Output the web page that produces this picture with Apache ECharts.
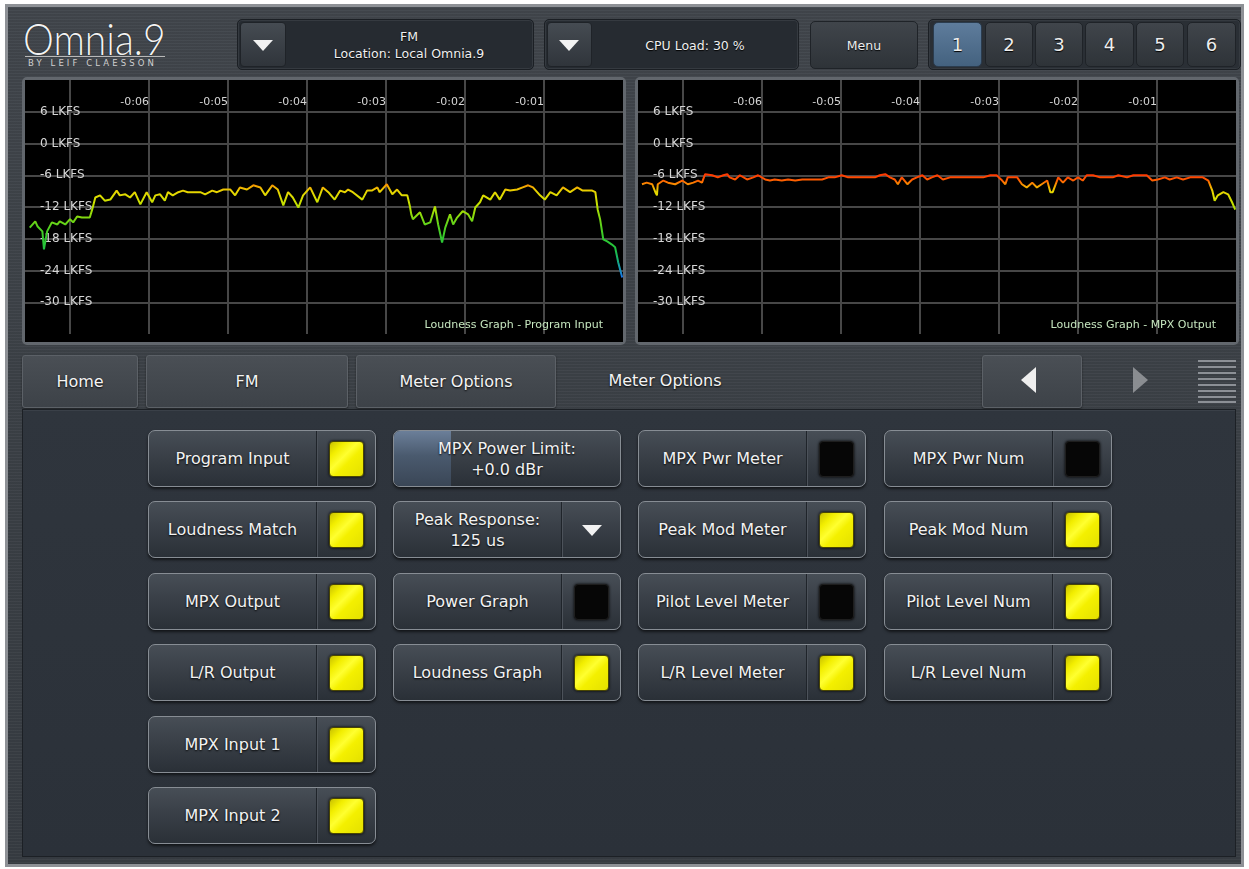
<!DOCTYPE html>
<html><head><meta charset="utf-8">
<script src="https://cdn.jsdelivr.net/npm/echarts@6/dist/echarts.min.js"></script>
<style>
html,body{margin:0;padding:0;background:#fff;width:1249px;height:869px;overflow:hidden;font-family:'DejaVu Sans',sans-serif;}
.a{position:absolute;box-sizing:border-box;}
#frame{left:5px;top:4px;width:1239px;height:863px;border:3px solid #8e9196;
 background-image:repeating-linear-gradient(180deg,rgba(255,255,255,0.025) 0 1px,rgba(0,0,0,0.05) 1px 3px),linear-gradient(#42474d,#3b4046 60%,#383d43);}
.logo{left:23px;top:13px;font:300 39px Lato,'DejaVu Sans';color:#f2f2f2;text-shadow:0 0 1px #000;transform:scaleY(1.1);transform-origin:0 0;}
.uline{left:25px;top:56px;width:140px;height:1px;background:#b8b8b8;}
.tag{left:28px;top:58px;font:8.5px 'DejaVu Sans';letter-spacing:3.1px;color:#d0d0d0;}
.dd{background:#262b31;border:1px solid #1b1f24;border-radius:5px;box-shadow:inset 0 0 0 1px #353a40;}
.arrbtn{background:linear-gradient(#454b52,#30353b);border:1px solid #1f2328;border-radius:4px;}
.tri{width:0;height:0;border-left:10px solid transparent;border-right:10px solid transparent;border-top:11px solid #f2f2f2;}
.ddtxt{color:#f0f0f0;font-size:12.5px;text-align:center;line-height:17px;text-shadow:0 1px 1px #000;}
.tb{background:linear-gradient(#40454b,#2e3338);border:1px solid #1f2328;border-radius:5px;color:#eee;display:flex;align-items:center;justify-content:center;text-shadow:0 1px 1px #000;}
.num{font-size:18px;}
.sel{background:linear-gradient(#5e7c9c,#44627f);border-color:#2b3c4e;}
.panel{background:#000;border:3px solid #62676d;border-radius:5px;}
.chart{background:#000;}
.nav{background:linear-gradient(#4a4f55,#3d4248);border:1px solid #5c6167;border-radius:3px;color:#f4f4f4;font-size:16px;display:flex;align-items:center;justify-content:center;text-shadow:0 1px 2px #000;box-shadow:0 1px 2px rgba(0,0,0,.5);}
.navtxt{color:#f4f4f4;font-size:16px;text-shadow:0 1px 2px #000;}
.ham{background:#8c9096;height:2px;left:1198px;width:38px;}
#lower{left:22px;top:409px;width:1214px;height:448px;background:linear-gradient(#2f353d,#2b3139);border:1px solid #1c2025;box-shadow:inset 0 1px 0 #3a4048;}
.btn{position:absolute;box-sizing:border-box;width:228px;height:57px;border-radius:7px;border:1px solid #878d94;
 background:linear-gradient(#474e56 0%,#3b4149 40%,#2a3037 100%);box-shadow:0 2px 3px rgba(0,0,0,.6);color:#f2f2f2;font-size:16px;text-shadow:0 1px 2px #000;}
.btn .lbl{position:absolute;left:0;top:0;width:167px;height:100%;display:flex;align-items:center;justify-content:center;text-align:center;line-height:21px;}
.btn .full{width:100%;}
.btn .side{position:absolute;left:167px;top:0;right:0;bottom:0;border-left:1px solid #1f242a;box-shadow:inset 1px 0 0 #4c525a;}
.btn .ind{position:absolute;left:12px;top:10px;width:35px;height:36px;border-radius:4px;box-sizing:border-box;}
.on{background:linear-gradient(135deg,#c8c000 0%,#f2ee00 22%,#ffff30 42%,#f4f000 58%,#e4e000 100%);border:1px solid #4a4600;box-shadow:0 0 3px #000;}
.off{background:#060606;border:1px solid #1e1e1e;box-shadow:0 0 3px #000;}
.fill{position:absolute;left:0;top:0;bottom:0;width:57px;border-radius:6px 0 0 6px;background:linear-gradient(#6b7f99,#4a5a6e 45%,#3a4656);}
</style></head>
<body>
<div class="a" id="frame"></div>
<div class="a logo">Omnia.9</div>
<div class="a uline"></div>
<div class="a tag">BY LEIF CLAESSON</div>

<div class="a dd" style="left:237px;top:19px;width:297px;height:51px;"></div>
<div class="a arrbtn" style="left:240px;top:22px;width:46px;height:45px;"></div>
<div class="a tri" style="left:253px;top:40px;"></div>
<div class="a ddtxt" style="left:286px;top:28px;width:246px;">FM<br>Location: Local Omnia.9</div>

<div class="a dd" style="left:544px;top:19px;width:255px;height:51px;"></div>
<div class="a arrbtn" style="left:547px;top:22px;width:45px;height:45px;"></div>
<div class="a tri" style="left:559px;top:40px;"></div>
<div class="a ddtxt" style="left:592px;top:37px;width:206px;">CPU Load: 30 %</div>

<div class="a tb" style="left:810px;top:21px;width:108px;height:48px;font-size:12.5px;">Menu</div>

<div class="a dd" style="left:928px;top:19px;width:313px;height:51px;background:#2a2f35;"></div>
<div class="a tb num sel" style="left:933px;top:22px;width:49px;height:45px;">1</div>
<div class="a tb num" style="left:985px;top:22px;width:48px;height:45px;">2</div>
<div class="a tb num" style="left:1035px;top:22px;width:48px;height:45px;">3</div>
<div class="a tb num" style="left:1085px;top:22px;width:49px;height:45px;">4</div>
<div class="a tb num" style="left:1136px;top:22px;width:48px;height:45px;">5</div>
<div class="a tb num" style="left:1187px;top:22px;width:49px;height:45px;">6</div>

<div class="a panel" style="left:22px;top:77px;width:604px;height:268px;"></div>
<div class="a panel" style="left:635px;top:77px;width:604px;height:268px;"></div>
<div class="a chart" id="g1" style="left:25px;top:80px;width:598px;height:262px;"></div>
<div class="a chart" id="g2" style="left:638px;top:80px;width:598px;height:262px;"></div>

<div class="a nav" style="left:22px;top:355px;width:116px;height:53px;">Home</div>
<div class="a nav" style="left:146px;top:355px;width:202px;height:53px;">FM</div>
<div class="a nav" style="left:356px;top:355px;width:200px;height:53px;">Meter Options</div>
<div class="a navtxt" style="left:565px;top:371px;width:200px;text-align:center;">Meter Options</div>
<div class="a nav" style="left:982px;top:355px;width:100px;height:53px;"></div>
<div class="a" style="left:1021px;top:367px;width:0;height:0;border-top:13px solid transparent;border-bottom:13px solid transparent;border-right:15px solid #eeeeee;"></div>
<div class="a" style="left:1133px;top:367px;width:0;height:0;border-top:13px solid transparent;border-bottom:13px solid transparent;border-left:15px solid #8a8d91;"></div>
<div class="a ham" style="top:360px"></div><div class="a ham" style="top:366px"></div>
<div class="a ham" style="top:372px"></div><div class="a ham" style="top:378px"></div>
<div class="a ham" style="top:384px"></div><div class="a ham" style="top:390px"></div>
<div class="a ham" style="top:396px"></div><div class="a ham" style="top:401px"></div>

<div class="a" id="lower"></div>
<div id="buttons"></div>

<script>
// ---- Data: loudness history (seconds ago, LKFS) ----
const xTickLabels = ['-0:01', '-0:02', '-0:03', '-0:04', '-0:05', '-0:06'];
const yTickValues = [6, 0, -6, -12, -18, -24, -30];
const yUnit = 'LKFS';

const inputSecAgo = [7.51,7.44,7.41,7.35,7.33,7.29,7.23,7.16,7.13,7.06,
 7.00,6.96,6.91,6.85,6.75,6.72,6.68,6.62,6.56,6.49,
 6.41,6.37,6.30,6.24,6.18,6.11,6.03,5.96,5.92,5.86,
 5.80,5.76,5.70,5.63,5.57,5.51,5.44,5.35,5.29,5.20,
 5.14,5.06,4.97,4.91,4.85,4.76,4.68,4.59,4.53,4.44,
 4.37,4.30,4.24,4.18,4.11,4.05,3.96,3.87,3.80,3.73,
 3.65,3.58,3.52,3.48,3.42,3.30,3.24,3.18,3.11,3.08,
 2.99,2.92,2.86,2.80,2.73,2.70,2.68,2.66,2.57,2.51,
 2.44,2.38,2.34,2.29,2.25,2.19,2.15,2.10,2.03,1.96,
 1.91,1.87,1.81,1.77,1.68,1.62,1.56,1.49,1.43,1.34,
 1.27,1.20,1.14,1.05,0.99,0.92,0.84,0.76,0.67,0.58,
 0.51,0.39,0.35,0.32,0.29,0.25,0.20,0.14,0.10,0.06,0.01];
const inputLkfs = [-15.9,-14.7,-15.7,-16.6,-20.0,-16.6,-14.9,-15.3,-14.7,-15.3,
 -14.3,-14.9,-13.8,-14.0,-14.0,-12.5,-10.2,-9.8,-10.8,-10.6,
 -8.9,-9.8,-9.6,-10.2,-9.2,-11.5,-9.2,-11.1,-9.8,-9.6,
 -10.8,-9.2,-9.8,-9.2,-8.9,-9.2,-9.2,-9.2,-9.6,-8.9,
 -9.2,-8.7,-8.7,-9.8,-8.3,-8.7,-7.9,-8.3,-9.8,-7.9,
 -8.7,-11.7,-9.2,-10.2,-12.1,-9.8,-8.3,-11.1,-8.3,-9.2,
 -10.6,-8.9,-9.2,-8.7,-9.2,-10.6,-8.9,-8.9,-8.3,-9.2,
 -7.7,-9.6,-8.7,-9.8,-9.8,-11.7,-13.4,-14.3,-13.0,-15.3,
 -14.9,-11.9,-15.3,-18.7,-15.9,-13.4,-15.3,-14.0,-12.8,-13.4,
 -14.7,-12.1,-11.1,-9.8,-10.6,-9.2,-10.6,-8.7,-8.9,-8.7,
 -8.3,-7.9,-8.3,-9.8,-10.6,-9.2,-9.8,-8.3,-9.2,-8.3,
 -8.9,-8.9,-9.2,-12.5,-14.3,-18.1,-18.5,-19.1,-19.6,-22.5,-25.3];

const outputSecAgo = [7.52,7.46,7.39,7.35,7.33,7.32,7.25,7.19,7.10,7.01,
 6.94,6.87,6.81,6.76,6.72,6.63,6.56,6.49,6.44,6.41,
 6.34,6.28,6.19,6.11,6.05,5.96,5.90,5.84,5.75,5.67,
 5.58,5.49,5.42,5.33,5.24,5.16,5.08,4.99,4.91,4.82,
 4.73,4.66,4.57,4.51,4.44,4.38,4.32,4.28,4.23,4.16,
 4.10,4.04,3.97,3.91,3.85,3.78,3.71,3.62,3.53,3.46,
 3.37,3.28,3.20,3.11,3.03,2.96,2.92,2.89,2.77,2.71,
 2.65,2.58,2.52,2.46,2.39,2.35,2.32,2.25,2.19,2.13,
 2.06,2.00,1.94,1.89,1.81,1.72,1.63,1.56,1.49,1.38,
 1.30,1.22,1.13,1.06,0.99,0.90,0.84,0.75,0.67,0.58,
 0.49,0.42,0.35,0.30,0.27,0.23,0.16,0.10,0.05,0.01];
const outputLkfs = [-7.7,-7.4,-7.7,-9.2,-9.8,-7.7,-7.0,-7.4,-7.7,-7.0,
 -7.7,-7.4,-7.0,-7.4,-5.8,-6.0,-6.4,-6.0,-5.8,-6.4,
 -6.8,-6.0,-6.8,-6.4,-6.0,-6.8,-7.0,-6.8,-7.0,-6.8,
 -7.0,-6.8,-6.8,-6.8,-6.8,-6.4,-6.4,-6.0,-6.4,-6.4,
 -6.4,-6.4,-6.4,-6.0,-5.8,-6.4,-6.8,-7.7,-6.4,-7.7,
 -6.8,-6.4,-6.0,-6.8,-6.4,-6.0,-6.8,-6.4,-6.4,-6.4,
 -6.4,-6.4,-6.4,-6.0,-6.0,-7.0,-7.7,-6.4,-6.4,-7.7,
 -8.3,-7.4,-8.3,-7.7,-7.0,-9.2,-9.2,-6.4,-7.4,-6.4,
 -7.0,-6.4,-7.0,-6.0,-6.0,-6.4,-6.4,-6.4,-6.0,-6.4,
 -6.0,-6.0,-6.0,-7.0,-6.8,-6.4,-6.8,-6.4,-6.8,-6.4,
 -6.4,-6.4,-7.0,-8.9,-10.8,-9.8,-9.2,-9.6,-11.1,-12.5];

const graphTitles = ['Loudness Graph - Program Input', 'Loudness Graph - MPX Output'];

// ---- Button panel content ----
const buttonColumns = [
  [['Program Input','on'],['Loudness Match','on'],['MPX Output','on'],['L/R Output','on'],['MPX Input 1','on'],['MPX Input 2','on']],
  [['MPX Power Limit:<br>+0.0 dBr','slider'],['Peak Response:<br>125 us','drop'],['Power Graph','off'],['Loudness Graph','on']],
  [['MPX Pwr Meter','off'],['Peak Mod Meter','on'],['Pilot Level Meter','off'],['L/R Level Meter','on']],
  [['MPX Pwr Num','off'],['Peak Mod Num','on'],['Pilot Level Num','on'],['L/R Level Num','on']]
];
const colX = [148, 393, 638, 884];
const rowY = [430, 501, 573, 644, 716, 787];
let html = '';
buttonColumns.forEach((col, ci) => col.forEach((b, ri) => {
  const [label, kind] = b;
  let inner = '';
  if (kind === 'slider') {
    inner = '<div class="fill"></div><div class="lbl full">' + label + '</div>';
  } else if (kind === 'drop') {
    inner = '<div class="lbl">' + label + '</div><div class="side"><div class="tri" style="position:absolute;left:20px;top:23px;"></div></div>';
  } else {
    inner = '<div class="lbl">' + label + '</div><div class="side"><div class="ind ' + kind + '"></div></div>';
  }
  html += '<div class="btn" style="left:' + colX[ci] + 'px;top:' + rowY[ri] + 'px;">' + inner + '</div>';
}));
document.getElementById('buttons').innerHTML = html;

// ---- Charts ----
const lineColors = ['#1a66ff','#1a7ae0','#1890c0','#16a0a0','#14b070','#18b858','#20c040','#28c438','#30c830','#40cc28',
 '#50d020','#68d418','#80d810','#9cdc08','#b8e000','#cce000','#dcdc00','#e8d400','#f5a000','#ff6000','#ff3a00'];

function makeChart(id, secAgo, lkfs, title) {
  const chart = echarts.init(document.getElementById(id), null, {renderer: 'canvas'});
  const data = secAgo.map((s, i) => [s, lkfs[i]]);
  chart.setOption({
    animation: false,
    backgroundColor: '#000',
    title: {
      text: title, right: 15, bottom: 6,
      textStyle: {color: '#c6e6bf', fontSize: 11, fontWeight: 'normal', fontFamily: 'DejaVu Sans'}
    },
    grid: {left: 0, right: 0, top: -1, bottom: 8},
    xAxis: {
      type: 'value', inverse: true, position: 'top',
      min: 0, max: 7.57, interval: 1,
      axisLine: {show: false}, axisTick: {show: false},
      splitLine: {show: true, showMinLine: false, showMaxLine: false, lineStyle: {color: '#474747', width: 2}},
      axisLabel: {
        inside: true, margin: 22, verticalAlign: 'middle', align: 'right',
        color: '#d6d6d6', fontSize: 11, fontFamily: 'DejaVu Sans',
        showMinLabel: false, showMaxLabel: false,
        formatter: v => (Number.isInteger(v) && xTickLabels[v - 1]) ? xTickLabels[v - 1] : ''
      }
    },
    yAxis: {
      type: 'value', min: -36, max: 12, interval: 6,
      axisLine: {show: false}, axisTick: {show: false},
      splitLine: {show: true, showMinLine: false, showMaxLine: false, lineStyle: {color: '#474747', width: 2}},
      axisLabel: {
        inside: true, margin: 15, align: 'left', verticalAlign: 'middle',
        color: '#d6d6d6', fontSize: 12, fontFamily: 'DejaVu Sans',
        formatter: v => yTickValues.includes(v) ? v + ' ' + yUnit : ''
      }
    },
    visualMap: {
      type: 'continuous', show: false, dimension: 1, seriesIndex: 0,
      min: -26, max: -6, inRange: {color: lineColors}
    },
    series: [{
      type: 'line', data: data, showSymbol: false, symbol: 'none',
      lineStyle: {width: 2}, z: 5
    }]
  });
}
makeChart('g1', inputSecAgo, inputLkfs, graphTitles[0]);
makeChart('g2', outputSecAgo, outputLkfs, graphTitles[1]);
</script>
</body></html>
